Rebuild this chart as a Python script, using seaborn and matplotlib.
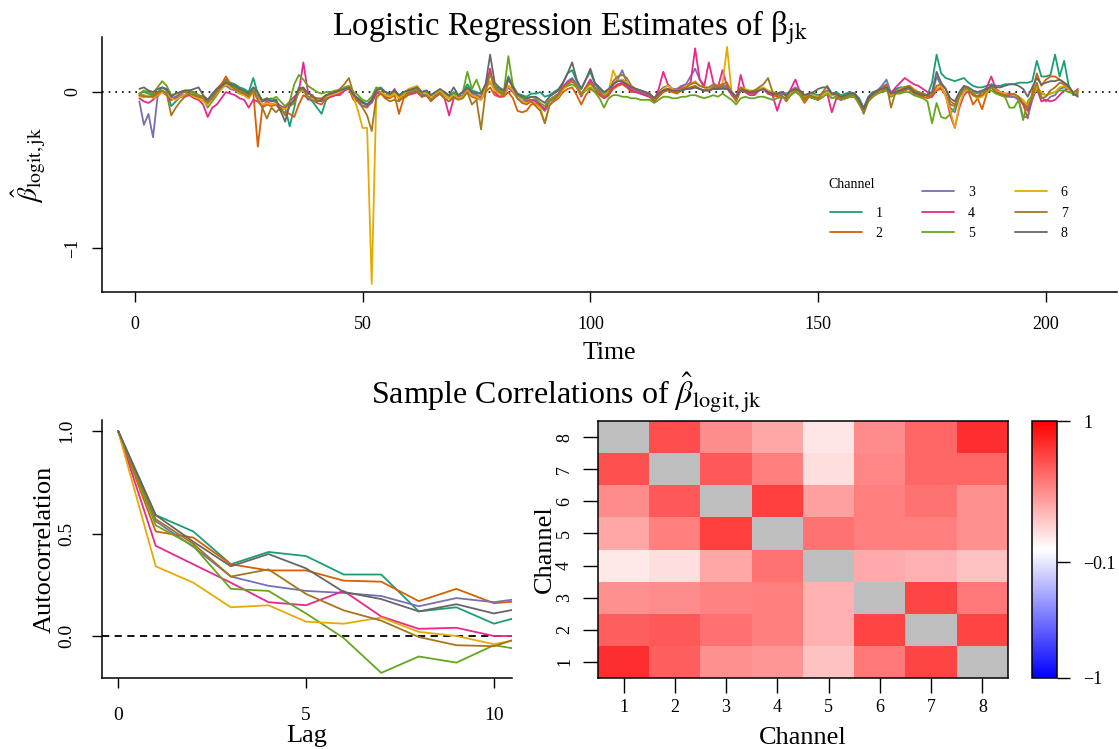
import numpy as np
import pandas as pd
import matplotlib
matplotlib.use("Agg")
import matplotlib.pyplot as plt
import seaborn as sns
from matplotlib.lines import Line2D

sns.set_theme(style="ticks")
plt.rcParams['font.family'] = ['Liberation Serif', 'DejaVu Serif']
plt.rcParams['mathtext.fontset'] = 'stix'
plt.rcParams['axes.unicode_minus'] = True
plt.rcParams['text.color'] = 'black'
plt.rcParams['axes.labelcolor'] = 'black'
plt.rcParams['xtick.color'] = 'black'
plt.rcParams['ytick.color'] = 'black'
plt.rcParams['axes.edgecolor'] = 'black'

channels = ['1', '2', '3', '4', '5', '6', '7', '8']

# ---- Logistic regression estimates per channel (time 1..207) ----
ch1 = [-0.01, 0.00, -0.01, -0.02, 0.00, 0.03, 0.01, -0.09, -0.06, -0.03,
       -0.02, 0.01, 0.00, -0.02, -0.03, -0.05, -0.02, 0.02, 0.05, 0.08,
       0.06, 0.05, 0.03, 0.02, 0.00, 0.09, -0.01, -0.06, -0.05, -0.04,
       -0.05, -0.12, -0.10, -0.22, -0.10, 0.03, 0.02, -0.04, -0.06, -0.10,
       -0.14, -0.05, -0.03, -0.02, 0.00, 0.01, 0.03, -0.02, -0.04, -0.06,
       -0.08, -0.05, 0.02, 0.03, 0.00, -0.01, 0.01, -0.02, 0.00, 0.01,
       0.02, 0.03, 0.00, 0.01, -0.02, 0.00, 0.01, -0.01, -0.03, 0.00,
       -0.02, 0.00, 0.05, 0.01, 0.00, -0.01, 0.05, 0.12, 0.04, 0.02,
       0.00, 0.10, 0.04, -0.01, -0.02, -0.03, -0.01, -0.01, 0.00, -0.03,
       -0.02, 0.00, 0.02, 0.06, 0.12, 0.14, 0.07, 0.02, 0.08, 0.13,
       0.05, 0.02, -0.01, 0.01, 0.05, 0.07, 0.08, 0.06, 0.03, 0.02,
       0.01, 0.00, -0.01, -0.04, -0.01, 0.01, 0.02, 0.01, 0.00, 0.01,
       0.02, 0.03, 0.03, 0.02, 0.01, 0.01, 0.02, 0.02, 0.03, 0.02,
       0.00, -0.03, 0.02, 0.01, 0.00, 0.00, 0.02, 0.02, 0.00, -0.01,
       -0.01, 0.00, -0.01, 0.01, 0.02, 0.01, -0.02, -0.01, -0.01, -0.02,
       -0.01, 0.01, -0.01, 0.00, -0.02, -0.01, 0.00, -0.01, -0.04, -0.10,
       -0.03, 0.00, 0.01, 0.02, 0.04, 0.00, 0.02, 0.03, 0.03, 0.04,
       0.01, 0.00, -0.01, -0.02, 0.06, 0.24, 0.12, 0.09, 0.08, 0.07,
       0.08, 0.09, 0.06, 0.04, 0.03, 0.03, 0.04, 0.05, 0.04, 0.04,
       0.05, 0.05, 0.05, 0.06, 0.06, 0.06, 0.07, 0.20, 0.10, 0.10,
       0.11, 0.24, 0.10, 0.20, 0.04, -0.02, 0.00]
ch2 = [-0.02, -0.02, -0.03, -0.02, 0.00, 0.01, -0.01, -0.05, -0.03, -0.01,
       0.00, 0.01, -0.01, -0.02, -0.03, -0.06, -0.03, 0.02, 0.05, 0.10,
       0.05, 0.03, 0.01, 0.00, -0.02, 0.00, -0.35, -0.10, -0.08, -0.09,
       -0.08, -0.12, -0.13, -0.14, -0.16, -0.08, -0.02, -0.04, -0.05, -0.07,
       -0.08, -0.04, -0.03, -0.02, -0.01, 0.01, 0.02, -0.05, -0.06, -0.09,
       -0.10, -0.06, 0.00, 0.00, -0.03, -0.04, -0.02, -0.14, -0.04, -0.02,
       -0.01, 0.00, -0.03, -0.02, -0.06, -0.03, -0.01, -0.04, -0.06, -0.03,
       -0.04, -0.03, 0.00, -0.03, -0.04, -0.05, 0.00, 0.03, -0.02, -0.03,
       -0.03, 0.00, -0.04, -0.12, -0.13, -0.12, -0.08, -0.07, -0.09, -0.12,
       -0.08, -0.06, -0.04, 0.00, 0.02, 0.03, -0.02, -0.08, -0.02, 0.02,
       0.00, -0.02, -0.04, -0.02, 0.02, 0.04, 0.05, 0.03, 0.00, 0.00,
       -0.01, -0.02, -0.03, -0.06, -0.03, 0.00, 0.01, 0.00, -0.01, 0.01,
       0.02, 0.03, 0.04, 0.02, 0.01, 0.02, 0.03, 0.02, 0.04, 0.03,
       -0.01, -0.06, 0.01, 0.00, -0.01, -0.01, 0.01, 0.02, -0.01, -0.02,
       -0.03, -0.02, -0.06, -0.02, 0.01, -0.02, -0.07, -0.03, -0.04, -0.05,
       -0.03, -0.01, -0.04, -0.03, -0.05, -0.04, -0.03, -0.03, -0.07, -0.13,
       -0.06, -0.03, -0.01, 0.01, 0.02, -0.03, -0.01, 0.00, 0.01, 0.02,
       -0.01, -0.02, -0.03, -0.04, -0.03, 0.01, 0.02, -0.02, -0.08, -0.09,
       -0.03, 0.01, 0.00, -0.08, -0.04, -0.11, -0.01, 0.03, 0.00, -0.02,
       -0.03, -0.03, -0.03, -0.04, -0.08, -0.17, 0.00, 0.12, 0.04, 0.08,
       0.10, 0.10, 0.08, 0.06, 0.03, -0.01, 0.00]
ch3 = [-0.06, -0.21, -0.14, -0.29, -0.03, 0.01, -0.01, -0.04, -0.03, -0.02,
       -0.02, -0.01, -0.03, -0.03, -0.04, -0.06, -0.03, 0.01, 0.03, 0.04,
       0.02, 0.01, -0.01, -0.02, -0.04, 0.01, -0.03, -0.06, -0.05, -0.06,
       -0.06, -0.09, -0.10, -0.07, -0.07, 0.00, 0.02, -0.05, -0.04, -0.04,
       -0.05, -0.02, -0.02, -0.01, 0.00, 0.01, 0.03, -0.03, -0.06, -0.09,
       -0.09, -0.07, -0.01, 0.00, -0.02, -0.02, -0.01, -0.03, -0.02, 0.00,
       0.00, 0.01, -0.02, -0.01, -0.03, -0.02, 0.00, -0.02, -0.04, -0.02,
       -0.03, -0.02, 0.02, -0.01, -0.02, -0.03, 0.03, 0.06, 0.02, 0.00,
       -0.01, 0.04, 0.02, -0.02, -0.04, -0.06, -0.05, -0.05, -0.08, -0.12,
       -0.06, -0.04, -0.02, 0.03, 0.07, 0.09, 0.05, -0.01, 0.03, 0.08,
       0.03, 0.01, -0.02, 0.00, 0.05, 0.08, 0.14, 0.06, 0.02, 0.01,
       0.00, -0.01, -0.02, -0.04, 0.00, 0.03, 0.04, 0.02, 0.02, 0.04,
       0.05, 0.10, 0.15, 0.08, 0.03, 0.02, 0.04, 0.03, 0.05, 0.03,
       0.00, -0.04, 0.02, 0.01, 0.00, 0.00, 0.02, 0.02, 0.00, -0.01,
       -0.02, -0.01, -0.02, 0.01, 0.03, 0.00, -0.03, -0.01, -0.02, -0.03,
       -0.01, 0.01, -0.02, -0.01, -0.03, -0.02, -0.01, -0.01, -0.05, -0.11,
       -0.04, -0.01, 0.01, 0.04, 0.08, -0.01, 0.01, 0.02, 0.03, 0.03,
       0.00, -0.01, -0.01, -0.02, -0.02, 0.10, 0.04, -0.02, -0.10, -0.13,
       -0.03, 0.02, 0.01, -0.02, -0.03, -0.02, 0.00, 0.03, 0.00, -0.01,
       -0.02, -0.03, -0.03, -0.05, -0.16, -0.16, -0.05, 0.03, -0.03, -0.06,
       -0.03, -0.02, 0.02, 0.03, 0.02, 0.00, -0.02]
ch4 = [-0.04, -0.06, -0.07, -0.05, -0.02, 0.00, -0.02, -0.05, -0.04, -0.03,
       -0.03, -0.02, -0.04, -0.05, -0.08, -0.16, -0.10, -0.08, -0.04, 0.00,
       -0.01, -0.02, -0.04, -0.05, -0.10, -0.05, -0.06, -0.09, -0.06, -0.08,
       -0.07, -0.09, -0.11, -0.06, -0.03, 0.00, 0.19, 0.00, -0.03, -0.05,
       -0.06, -0.03, -0.03, -0.02, -0.02, 0.01, 0.03, -0.04, -0.05, -0.07,
       -0.08, -0.06, -0.01, 0.00, -0.04, -0.03, 0.02, -0.05, -0.02, -0.01,
       -0.01, 0.00, -0.03, -0.02, -0.05, -0.03, -0.01, -0.04, -0.15, -0.04,
       -0.04, -0.03, 0.01, -0.02, -0.03, -0.04, 0.03, 0.15, 0.00, -0.03,
       -0.02, 0.03, 0.00, -0.04, -0.06, -0.06, -0.05, -0.06, -0.08, -0.11,
       -0.05, -0.03, -0.01, 0.04, 0.06, 0.08, 0.03, -0.03, 0.03, 0.08,
       0.02, -0.01, -0.04, -0.02, 0.03, 0.05, 0.06, 0.04, 0.01, 0.00,
       -0.01, -0.02, -0.03, -0.06, 0.02, 0.13, 0.05, 0.02, 0.01, 0.03,
       0.04, 0.06, 0.28, 0.08, 0.04, 0.19, 0.06, 0.03, 0.14, 0.04,
       -0.02, -0.05, 0.11, 0.00, -0.02, -0.02, 0.01, 0.02, -0.01, -0.02,
       -0.12, -0.03, -0.04, 0.02, 0.08, 0.00, -0.05, -0.03, -0.04, -0.05,
       -0.03, -0.01, -0.13, -0.04, -0.05, -0.04, -0.03, -0.03, -0.07, -0.12,
       -0.04, -0.01, 0.01, 0.02, 0.03, -0.01, 0.03, 0.06, 0.09, 0.07,
       0.05, 0.04, 0.02, 0.00, -0.03, 0.02, 0.03, -0.02, -0.15, -0.23,
       -0.10, -0.02, 0.01, -0.01, -0.03, 0.00, 0.03, 0.10, 0.02, 0.00,
       -0.01, -0.01, -0.02, -0.03, -0.08, -0.12, -0.04, 0.02, -0.06, -0.05,
       -0.06, -0.05, -0.02, 0.01, 0.02, -0.01, 0.02]
ch5 = [-0.01, 0.01, 0.00, -0.01, 0.03, 0.07, 0.04, -0.02, -0.01, 0.00,
       0.01, 0.01, -0.01, -0.02, -0.04, -0.10, -0.06, -0.02, 0.02, 0.05,
       0.04, 0.03, 0.02, 0.00, -0.01, 0.03, -0.01, -0.05, -0.04, -0.05,
       -0.03, -0.06, -0.09, -0.06, 0.05, 0.11, 0.08, 0.04, 0.02, 0.00,
       -0.01, 0.00, 0.00, 0.01, 0.01, 0.03, 0.04, 0.00, -0.02, -0.05,
       -0.06, -0.03, 0.03, 0.02, 0.00, -0.02, 0.00, -0.03, -0.01, 0.01,
       0.01, 0.02, -0.01, 0.00, -0.03, -0.01, 0.01, -0.02, -0.04, -0.01,
       -0.02, 0.00, 0.13, 0.02, 0.08, 0.00, 0.03, 0.06, 0.03, 0.01,
       0.00, 0.23, 0.04, -0.02, -0.04, -0.05, -0.03, -0.04, -0.07, -0.09,
       -0.05, -0.03, -0.02, 0.02, 0.04, 0.05, 0.03, -0.02, 0.01, 0.03,
       0.00, -0.04, -0.10, -0.04, -0.02, -0.02, -0.03, -0.03, -0.04, -0.04,
       -0.05, -0.05, -0.05, -0.07, -0.05, -0.03, -0.03, -0.04, -0.04, -0.03,
       -0.03, -0.02, -0.02, -0.03, -0.04, -0.03, -0.02, -0.03, -0.01, -0.03,
       -0.05, -0.08, -0.04, -0.03, -0.04, -0.04, -0.03, -0.03, -0.04, -0.05,
       -0.04, -0.03, -0.05, -0.02, 0.00, -0.02, -0.05, -0.03, -0.04, -0.05,
       -0.03, -0.01, -0.04, -0.03, -0.05, -0.04, -0.03, -0.03, -0.08, -0.13,
       -0.06, -0.03, -0.01, 0.00, 0.01, -0.03, -0.01, -0.01, 0.00, 0.00,
       -0.02, -0.03, -0.04, -0.06, -0.20, -0.07, -0.16, -0.17, -0.14, -0.10,
       -0.03, 0.01, 0.01, 0.00, -0.01, 0.00, 0.01, 0.01, -0.01, -0.02,
       -0.03, -0.10, -0.10, -0.05, -0.18, -0.06, -0.02, 0.01, -0.01, -0.02,
       -0.01, 0.00, 0.01, 0.01, 0.00, -0.01, -0.01]
ch6 = [-0.03, -0.03, -0.02, -0.04, -0.02, 0.00, -0.01, -0.04, -0.05, -0.03,
       -0.02, -0.01, -0.03, -0.04, -0.06, -0.08, -0.04, -0.01, 0.02, 0.05,
       0.03, 0.02, -0.01, -0.02, -0.04, 0.00, -0.04, -0.08, -0.07, -0.08,
       -0.07, -0.10, -0.11, -0.09, -0.07, 0.00, 0.01, -0.03, -0.04, -0.05,
       -0.05, -0.03, -0.02, -0.01, 0.00, 0.02, 0.03, -0.03, -0.12, -0.23,
       -0.23, -1.23, -0.05, 0.00, -0.02, -0.03, -0.01, -0.04, -0.02, 0.02,
       0.03, 0.04, 0.00, -0.01, -0.03, -0.01, 0.01, -0.02, -0.04, -0.02,
       -0.04, -0.03, 0.01, -0.02, -0.03, -0.05, 0.02, 0.07, 0.01, -0.01,
       -0.02, 0.04, 0.01, -0.04, -0.06, -0.07, -0.06, -0.08, -0.10, -0.20,
       -0.08, -0.05, -0.03, 0.02, 0.05, 0.07, 0.04, -0.02, 0.02, 0.05,
       0.02, 0.00, -0.02, 0.00, 0.14, 0.07, 0.08, 0.06, 0.03, 0.02,
       0.01, 0.00, -0.01, -0.05, -0.01, 0.02, 0.04, 0.02, 0.01, 0.02,
       0.04, 0.05, 0.07, 0.04, 0.03, 0.02, 0.05, 0.04, 0.05, 0.29,
       0.00, -0.05, 0.03, 0.02, 0.01, 0.01, 0.02, 0.03, 0.01, 0.00,
       -0.01, 0.00, -0.02, 0.01, 0.02, 0.01, -0.03, -0.02, -0.02, -0.03,
       -0.02, 0.00, -0.02, -0.01, -0.03, -0.02, -0.02, -0.02, -0.06, -0.12,
       -0.05, -0.02, 0.00, 0.02, 0.03, -0.02, 0.00, 0.02, 0.03, 0.04,
       0.02, 0.00, -0.01, -0.02, -0.01, 0.02, 0.04, -0.03, -0.12, -0.23,
       -0.08, 0.00, 0.02, -0.02, -0.04, -0.03, 0.00, 0.04, 0.01, 0.00,
       -0.01, -0.02, -0.02, -0.03, -0.05, -0.09, -0.03, 0.03, 0.00, -0.02,
       -0.01, 0.00, 0.03, 0.04, 0.02, -0.01, 0.01]
ch7 = [-0.02, -0.03, -0.03, -0.03, -0.01, 0.01, -0.01, -0.15, -0.10, -0.06,
       -0.03, -0.01, -0.02, -0.03, -0.04, -0.07, -0.04, 0.00, 0.03, 0.07,
       0.04, 0.02, 0.00, -0.01, -0.03, 0.01, -0.05, -0.10, -0.17, -0.10,
       -0.13, -0.10, -0.15, -0.09, -0.07, 0.01, 0.02, -0.03, -0.03, -0.04,
       -0.04, -0.02, -0.01, 0.00, 0.02, 0.05, 0.09, -0.01, -0.06, -0.10,
       -0.15, -0.25, -0.03, -0.01, -0.04, -0.06, -0.05, -0.06, -0.03, -0.01,
       0.00, 0.01, -0.03, -0.02, -0.05, -0.03, -0.01, -0.04, -0.06, -0.03,
       -0.05, -0.04, 0.00, -0.08, -0.05, -0.24, 0.00, 0.12, 0.03, 0.00,
       -0.02, 0.08, 0.03, -0.04, -0.07, -0.08, -0.06, -0.09, -0.12, -0.20,
       -0.09, -0.05, -0.02, 0.03, 0.05, 0.07, 0.04, -0.02, 0.03, 0.06,
       0.02, 0.00, -0.03, -0.01, 0.07, 0.10, 0.11, 0.09, 0.04, 0.02,
       0.01, 0.00, -0.02, -0.06, -0.02, 0.01, 0.02, 0.01, 0.00, 0.02,
       0.03, 0.05, 0.06, 0.04, 0.03, 0.03, 0.05, 0.04, 0.05, 0.06,
       0.00, -0.05, 0.03, 0.01, 0.00, 0.01, 0.03, 0.05, 0.09, 0.00,
       -0.02, 0.00, -0.03, 0.00, 0.02, 0.00, -0.04, -0.02, -0.03, -0.04,
       0.00, 0.04, -0.01, -0.02, -0.04, -0.03, -0.02, -0.02, -0.06, -0.14,
       -0.05, -0.02, 0.00, 0.03, 0.05, -0.10, 0.00, 0.01, 0.03, 0.04,
       0.01, 0.00, -0.01, -0.03, -0.02, 0.04, 0.05, 0.02, -0.06, -0.08,
       -0.02, 0.03, 0.02, -0.02, -0.03, -0.02, 0.01, 0.04, 0.00, -0.01,
       -0.02, -0.02, -0.01, -0.03, -0.07, -0.10, -0.03, 0.06, -0.04, -0.03,
       0.01, 0.03, 0.06, 0.05, 0.03, 0.00, 0.01]
ch8 = [0.02, 0.03, 0.01, 0.00, 0.02, 0.03, 0.02, -0.03, -0.01, 0.00,
       0.01, 0.01, 0.02, 0.03, -0.02, -0.05, -0.01, 0.02, 0.04, 0.06,
       0.05, 0.04, 0.02, 0.01, -0.01, 0.03, 0.00, -0.06, -0.04, -0.06,
       -0.05, -0.12, -0.19, -0.08, -0.05, 0.02, 0.03, -0.01, -0.02, -0.06,
       -0.05, -0.02, -0.01, 0.00, 0.01, 0.02, 0.03, -0.02, -0.04, -0.07,
       -0.08, -0.05, 0.01, 0.02, 0.00, -0.01, 0.01, -0.02, 0.00, 0.01,
       0.02, 0.03, 0.00, 0.01, -0.02, 0.00, 0.02, 0.00, -0.02, 0.03,
       -0.02, 0.00, 0.03, 0.00, -0.01, -0.01, 0.05, 0.24, 0.06, 0.03,
       0.01, 0.09, 0.03, -0.01, -0.03, -0.04, -0.03, -0.03, -0.05, -0.07,
       -0.03, -0.01, 0.01, 0.06, 0.12, 0.19, 0.08, 0.02, 0.08, 0.15,
       0.06, 0.03, 0.00, 0.02, 0.05, 0.07, 0.07, 0.05, 0.03, 0.02,
       0.01, 0.00, -0.01, -0.04, -0.01, 0.01, 0.02, 0.01, 0.01, 0.01,
       0.02, 0.02, 0.03, 0.02, 0.01, 0.01, 0.02, 0.02, 0.02, 0.02,
       0.00, -0.03, 0.01, 0.01, 0.00, 0.00, 0.01, 0.02, 0.00, -0.01,
       -0.01, 0.00, -0.02, 0.01, 0.02, 0.01, -0.02, -0.01, 0.00, 0.02,
       0.03, 0.03, -0.01, -0.01, -0.03, -0.02, -0.01, -0.01, -0.05, -0.11,
       -0.04, -0.01, 0.01, 0.02, 0.03, -0.01, 0.00, 0.01, 0.02, 0.03,
       0.00, -0.01, -0.02, -0.02, 0.00, 0.13, 0.06, 0.02, -0.04, -0.06,
       0.00, 0.04, 0.03, 0.01, 0.00, 0.01, 0.02, 0.04, 0.03, 0.03,
       0.04, 0.05, 0.05, 0.04, 0.02, -0.03, 0.03, 0.09, 0.05, 0.06,
       0.07, 0.07, 0.08, 0.06, 0.04, -0.01, -0.03]

# ---- Autocorrelation by lag ----
lags = [0, 1, 2, 3, 4, 5, 6, 7, 8, 9, 10, 11]
acf1 = [1.0, 0.59, 0.51, 0.35, 0.41, 0.39, 0.30, 0.30, 0.12, 0.14, 0.06, 0.11]
acf2 = [1.0, 0.51, 0.48, 0.35, 0.32, 0.32, 0.27, 0.265, 0.17, 0.23, 0.16, 0.175]
acf3 = [1.0, 0.56, 0.435, 0.29, 0.245, 0.22, 0.21, 0.195, 0.145, 0.185, 0.165, 0.19]
acf4 = [1.0, 0.44, 0.35, 0.26, 0.165, 0.15, 0.22, 0.095, 0.035, 0.04, 0.0, 0.0]
acf5 = [1.0, 0.54, 0.44, 0.23, 0.22, 0.11, -0.01, -0.18, -0.10, -0.13, -0.045, -0.075]
acf6 = [1.0, 0.34, 0.26, 0.14, 0.15, 0.07, 0.06, 0.09, 0.02, 0.0, -0.04, -0.005]
acf7 = [1.0, 0.57, 0.45, 0.29, 0.325, 0.205, 0.125, 0.075, -0.005, -0.045, -0.05, 0.01]
acf8 = [1.0, 0.59, 0.46, 0.34, 0.40, 0.33, 0.215, 0.18, 0.12, 0.155, 0.11, 0.145]

# ---- Cross-channel correlation matrix (rows shown top to bottom) ----
corr_rows = ['8', '7', '6', '5', '4', '3', '2', '1']
corr_cols = ['1', '2', '3', '4', '5', '6', '7', '8']
corr_r8 = [np.nan, 0.70, 0.45, 0.35, 0.10, 0.45, 0.60, 0.82]
corr_r7 = [0.68, np.nan, 0.65, 0.50, 0.13, 0.47, 0.60, 0.60]
corr_r6 = [0.45, 0.65, np.nan, 0.75, 0.37, 0.50, 0.55, 0.43]
corr_r5 = [0.35, 0.50, 0.75, np.nan, 0.55, 0.50, 0.50, 0.43]
corr_r4 = [0.09, 0.13, 0.35, 0.55, np.nan, 0.33, 0.31, 0.24]
corr_r3 = [0.43, 0.45, 0.49, 0.50, 0.31, np.nan, 0.73, 0.53]
corr_r2 = [0.63, 0.65, 0.56, 0.50, 0.31, 0.73, np.nan, 0.73]
corr_r1 = [0.82, 0.63, 0.43, 0.41, 0.24, 0.53, 0.73, np.nan]

cbar_ticks = [-1, -0.1, 1]
cbar_labels = ['\u22121', '\u22120.1', '1']

palette = sns.color_palette("Dark2", 8)

# ---------- tidy tables ----------
est_series = [ch1, ch2, ch3, ch4, ch5, ch6, ch7, ch8]
est_df = pd.concat([pd.DataFrame({'Time': np.arange(1, len(v) + 1), 'Estimate': v, 'Channel': c})
                    for c, v in zip(channels, est_series)], ignore_index=True)
acf_series = [acf1, acf2, acf3, acf4, acf5, acf6, acf7, acf8]
acf_df = pd.concat([pd.DataFrame({'Lag': lags[:len(v)], 'ACF': v, 'Channel': c})
                    for c, v in zip(channels, acf_series)], ignore_index=True)
corr_df = pd.DataFrame([corr_r8, corr_r7, corr_r6, corr_r5, corr_r4, corr_r3, corr_r2, corr_r1],
                       index=corr_rows, columns=corr_cols)

W, H = 1119, 749
fig = plt.figure(figsize=(W / 100, H / 100), dpi=100)


def box(l, t, r, b):
    return [l / W, 1 - b / H, (r - l) / W, (b - t) / H]


def style_axis(ax, size):
    ax.tick_params(axis='both', which='both', direction='out', length=7, width=1,
                   color='black', labelcolor='black', labelsize=size)
    for s in ax.spines.values():
        s.set_color('black')
        s.set_linewidth(1.1)


# ---------- top: estimates over time ----------
ax1 = fig.add_axes(box(102, 37, 1117, 292))
ax1.set_facecolor('white')
sns.lineplot(data=est_df, x='Time', y='Estimate', hue='Channel', palette=palette,
             estimator=None, sort=False, linewidth=1.3, legend=False, ax=ax1)
ax1.axhline(0, color='black', linestyle=(0, (1, 3)), linewidth=1.2, zorder=0)
ax1.set_xlim(-7.2, 215.6)
ax1.set_ylim(-1.282, 0.353)
ax1.set_xticks([0, 50, 100, 150, 200])
ax1.set_yticks([-1, 0])
ax1.set_yticklabels(['\u22121', '0'])
sns.despine(ax=ax1)
style_axis(ax1, 13)
ax1.tick_params(axis='x', pad=10)
ax1.tick_params(axis='y', pad=8)
for lab in ax1.get_yticklabels():
    lab.set_rotation(90)
    lab.set_va('center')
ax1.set_xlabel('Time', fontsize=18.5, va='center', ha='center')
ax1.xaxis.set_label_coords(0.5, -0.24)
ax1.set_ylabel(r'$\hat{\beta}_{\mathrm{logit,jk}}$', fontsize=20, va='center', ha='center')
ax1.yaxis.set_label_coords(-0.072, 0.5)
ax1.set_title('Logistic Regression Estimates of \u03b2$_{\\mathrm{jk}}$', fontsize=23.5,
              x=0.461, y=1.0, pad=1)

handles = [Line2D([], [], linestyle='none')] + \
          [Line2D([0], [0], color=palette[i], linewidth=1.3) for i in range(8)]
labels = [''] + channels
ax1.legend(handles, labels, ncol=3, frameon=False, loc='upper left',
           bbox_to_anchor=(830 / W, 1 - 186 / H), bbox_transform=fig.transFigure,
           fontsize=10, handlelength=2.3, handletextpad=1.0, columnspacing=2.85,
           labelspacing=0.55, borderpad=0, borderaxespad=0)
fig.text(828 / W, 1 - 185 / H, 'Channel', fontsize=10, ha='left', va='center')

# ---------- bottom title ----------
fig.text(567 / W, 1 - 393 / H, r'Sample Correlations of $\hat{\beta}_{\mathrm{logit,jk}}$',
         fontsize=23, ha='center', va='center')

# ---------- bottom left: autocorrelation ----------
ax2 = fig.add_axes(box(102, 420, 512, 678))
sns.lineplot(data=acf_df, x='Lag', y='ACF', hue='Channel', palette=palette,
             estimator=None, sort=False, linewidth=1.3, legend=False, ax=ax2)
ax2.axhline(0, color='black', linestyle=(0, (4, 3)), linewidth=1.3, zorder=0)
ax2.set_xlim(-0.43, 10.48)
ax2.set_ylim(-0.205, 1.054)
ax2.set_xticks([0, 5, 10])
ax2.set_yticks([0.0, 0.5, 1.0])
ax2.set_yticklabels(['0.0', '0.5', '1.0'])
sns.despine(ax=ax2)
style_axis(ax2, 14)
ax2.tick_params(axis='x', pad=14)
ax2.tick_params(axis='y', pad=12)
for lab in ax2.get_yticklabels():
    lab.set_rotation(90)
    lab.set_va('center')
ax2.set_xlabel('Lag', fontsize=19, va='center', ha='center')
ax2.xaxis.set_label_coords(0.5, -0.225)
ax2.set_ylabel('Autocorrelation', fontsize=19, va='center', ha='center')
ax2.yaxis.set_label_coords(-0.14, 0.5)

# ---------- bottom right: correlation heatmap ----------
ax3 = fig.add_axes(box(598, 421, 1008, 678))
cax = fig.add_axes(box(1032, 421, 1057, 678))
sns.heatmap(corr_df, cmap='bwr', vmin=-1, vmax=1, ax=ax3, cbar_ax=cax,
            linewidths=0, square=False)
ax3.set_facecolor('#BEBEBE')
for s in ax3.spines.values():
    s.set_visible(True)
style_axis(ax3, 13)
ax3.tick_params(axis='x', length=11, pad=4)
ax3.tick_params(axis='y', length=11, pad=7)
for lab in ax3.get_yticklabels():
    lab.set_rotation(90)
    lab.set_va('center')
for lab in ax3.get_xticklabels():
    lab.set_rotation(0)
ax3.set_xlabel('Channel', fontsize=19, va='center', ha='center')
ax3.xaxis.set_label_coords(0.5, -0.235)
ax3.set_ylabel('Channel', fontsize=19, va='center', ha='center')
ax3.yaxis.set_label_coords(-0.13, 0.5)

cbar = ax3.collections[0].colorbar
cbar.set_ticks(cbar_ticks)
cbar.set_ticklabels(cbar_labels)
cbar.outline.set_edgecolor('black')
cbar.outline.set_linewidth(1.1)
cax.tick_params(length=9, width=1, color='black', labelsize=13, pad=10)

fig.savefig('out.png', dpi=100)
